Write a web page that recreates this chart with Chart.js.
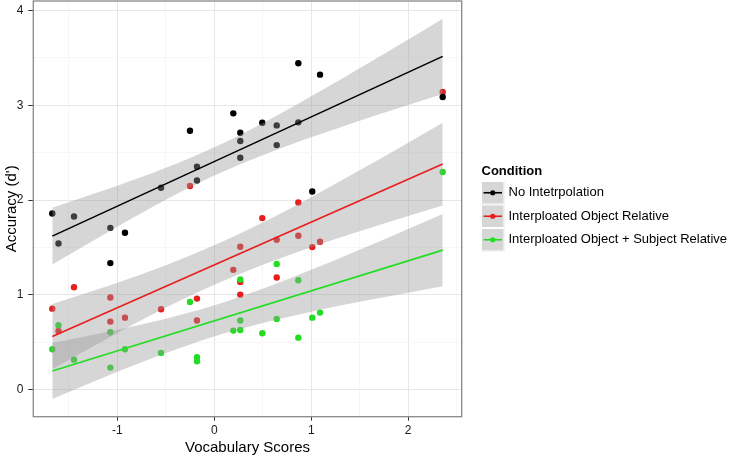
<!DOCTYPE html>
<html><head><meta charset="utf-8">
<script src="https://cdn.jsdelivr.net/npm/chart.js@4.4.1/dist/chart.umd.min.js"></script>
<style>html,body{margin:0;padding:0;background:#fff;} #wrap{width:732px;height:456px;position:relative;}</style>
</head><body><div id="wrap"><canvas id="c"></canvas></div>
<script>
// Vocabulary scores (one per subject), shared by the three conditions
const vocab = [-1.672,-1.608,-1.448,-1.073,-1.073,-0.922,-0.550,-0.251,-0.179,-0.179,0.196,0.268,0.268,0.268,0.495,0.644,0.644,0.867,0.867,1.011,1.091,2.357];
const noInterp   = [1.858,1.542,1.827,1.707,1.335,1.655,2.130,2.732,2.352,2.207,2.915,2.711,2.623,2.447,2.816,2.788,2.580,3.443,2.820,2.091,3.323,3.088];
const objRel     = [0.855,0.620,1.081,0.972,0.718,0.760,0.849,2.148,0.961,0.729,1.264,1.507,1.137,1.003,1.810,1.581,1.183,1.975,1.623,1.504,1.560,3.140];
const objSubjRel = [0.426,0.680,0.317,0.606,0.233,0.426,0.388,0.926,0.342,0.300,0.623,1.162,0.729,0.630,0.595,1.327,0.746,1.155,0.549,0.760,0.813,2.296];

// Fitted lines (end points)
const fitX = [-1.672, 2.357];
const noInterpFit   = [1.620, 3.516];
const objRelFit     = [0.560, 2.380];
const objSubjRelFit = [0.197, 1.472];

// Confidence bands (edges)
const bandX = [-1.672,-1,-0.5,0,0.5,1,1.5,2,2.357];
const noInterpUpper   = [1.920,2.152,2.340,2.556,2.810,3.094,3.390,3.693,3.912];
const noInterpLower   = [1.320,1.720,2.004,2.258,2.474,2.662,2.836,3.003,3.120];
const objRelUpper     = [0.903,1.127,1.312,1.523,1.764,2.031,2.314,2.605,2.817];
const objRelLower     = [0.217,0.599,0.866,1.107,1.318,1.503,1.672,1.831,1.943];
const objSubjRelUpper = [0.492,0.631,0.749,0.891,1.065,1.264,1.475,1.695,1.854];
const objSubjRelLower = [-0.098,0.189,0.387,0.561,0.703,0.822,0.927,1.023,1.090];

const xTicks = [-1.5,-1,-0.5,0,0.5,1,1.5,2,2.5];
const yTicks = [0,0.5,1,1.5,2,2.5,3,3.5,4];

const seriesNames = ['No Intetrpolation','Interploated Object Relative','Interploated Object + Subject Relative'];
const colors = ['#000000','#e81e1e','#22dd22'];

const pts = (xs, ys) => xs.map((x,i)=>({x:x, y:ys[i]}));
const BAND = 'rgba(153,153,153,0.4)';

function bandPair(upper, lower){
  return [
    {type:'line', data:pts(bandX, upper), fill:'+1', backgroundColor:BAND, borderWidth:0, pointRadius:0, cubicInterpolationMode:'monotone', order:2},
    {type:'line', data:pts(bandX, lower), fill:false, borderWidth:0, pointRadius:0, cubicInterpolationMode:'monotone', order:2}
  ];
}
function scatter(ys, color, order){
  return {type:'scatter', data:pts(vocab, ys), backgroundColor:color, borderColor:color, borderWidth:0, pointRadius:3.2, showLine:false, order:order};
}
function fit(ys, color){
  return {type:'line', data:pts(fitX, ys), borderColor:color, borderWidth:1.6, pointRadius:0, fill:false, order:1};
}

const datasets = [
  scatter(objSubjRel, colors[2], 3),
  scatter(noInterp, colors[0], 4),
  scatter(objRel, colors[1], 5),
  ...bandPair(noInterpUpper, noInterpLower),
  ...bandPair(objRelUpper, objRelLower),
  ...bandPair(objSubjRelUpper, objSubjRelLower),
  fit(noInterpFit, colors[0]),
  fit(objRelFit, colors[1]),
  fit(objSubjRelFit, colors[2])
];

const FONT = '"Liberation Sans", Arial, sans-serif';

const decor = {
  id:'decor',
  afterDatasetsDraw(chart){
    const {ctx, chartArea:a} = chart;
    ctx.save();
    ctx.strokeStyle = '#888888';
    ctx.lineWidth = 1.3;
    ctx.strokeRect(a.left, a.top, a.right-a.left, a.bottom-a.top);
    ctx.restore();
  },
  afterDraw(chart){
    const {ctx, chartArea:a} = chart;
    ctx.save();
    ctx.fillStyle = '#000';
    ctx.font = '15px ' + FONT;
    ctx.textAlign = 'center';
    ctx.textBaseline = 'alphabetic';
    ctx.fillText('Vocabulary Scores', (a.left+a.right)/2, 452);
    ctx.save();
    ctx.translate(16, (a.top+a.bottom)/2);
    ctx.rotate(-Math.PI/2);
    ctx.fillText("Accuracy (d')", 0, 0);
    ctx.restore();
    // legend
    ctx.textAlign = 'left';
    ctx.textBaseline = 'middle';
    ctx.font = 'bold 13px ' + FONT;
    ctx.fillText('Condition', 481.5, 171);
    const kx = 481, kw = 23.5, kh = 23.5, ky0 = 181;
    for (let i=0;i<3;i++){
      const y = ky0 + i*kh;
      ctx.fillStyle = '#d6d6d6';
      ctx.fillRect(kx, y, kw, kh);
      ctx.strokeStyle = '#ffffff';
      ctx.lineWidth = 1;
      ctx.strokeRect(kx+0.5, y+0.5, kw-1, kh-1);
      const cy = y + kh/2;
      ctx.strokeStyle = colors[i];
      ctx.lineWidth = 1.6;
      ctx.beginPath(); ctx.moveTo(kx+2.5, cy); ctx.lineTo(kx+kw-2.5, cy); ctx.stroke();
      ctx.fillStyle = colors[i];
      ctx.beginPath(); ctx.arc(kx+kw/2, cy, 2.6, 0, Math.PI*2); ctx.fill();
      ctx.fillStyle = '#000';
      ctx.font = '13px ' + FONT;
      ctx.fillText(seriesNames[i], 508.5, cy);
    }
    ctx.restore();
  }
};

const isInt = v => Math.abs(v - Math.round(v)) < 1e-9;

new Chart(document.getElementById('c'), {
  type:'scatter',
  data:{datasets:datasets},
  options:{
    responsive:true, maintainAspectRatio:false, animation:false, events:[],
    devicePixelRatio: 1,
    layout:{autoPadding:false, padding:{top:1, left:0, right:270.3, bottom:0}},
    plugins:{legend:{display:false}, tooltip:{enabled:false}, title:{display:false}, filler:{drawTime:'beforeDatasetDraw', propagate:false}},
    scales:{
      x:{type:'linear', min:-1.868, max:2.553,
        afterBuildTicks: s => { s.ticks = xTicks.map(v=>({value:v})); },
        afterFit: s => { s.height = 39.3; s.paddingLeft = 0; s.paddingRight = 0; },
        ticks:{autoSkip:false, maxRotation:0, padding:3, color:'#1a1a1a', font:{family:FONT, size:12},
          callback: v => isInt(v) ? String(Math.round(v)) : ''},
        grid:{color: c => isInt(c.tick.value) ? '#e6e6e6' : '#f6f6f6', lineWidth:1,
          tickColor: c => isInt(c.tick.value) ? '#333333' : 'rgba(0,0,0,0)', tickLength:4, drawTicks:true},
        border:{display:false}
      },
      y:{type:'linear', min:-0.285, max:4.10,
        afterBuildTicks: s => { s.ticks = yTicks.map(v=>({value:v})); },
        afterFit: s => { s.width = 33.3; s.paddingTop = 0; s.paddingBottom = 0; },
        ticks:{autoSkip:false, padding:5, color:'#1a1a1a', font:{family:FONT, size:12},
          callback: v => isInt(v) ? String(Math.round(v)) : ''},
        grid:{color: c => isInt(c.tick.value) ? '#e6e6e6' : '#f6f6f6', lineWidth:1,
          tickColor: c => isInt(c.tick.value) ? '#333333' : 'rgba(0,0,0,0)', tickLength:5, drawTicks:true},
        border:{display:false}
      }
    }
  },
  plugins:[decor]
});
</script>
</body></html>
